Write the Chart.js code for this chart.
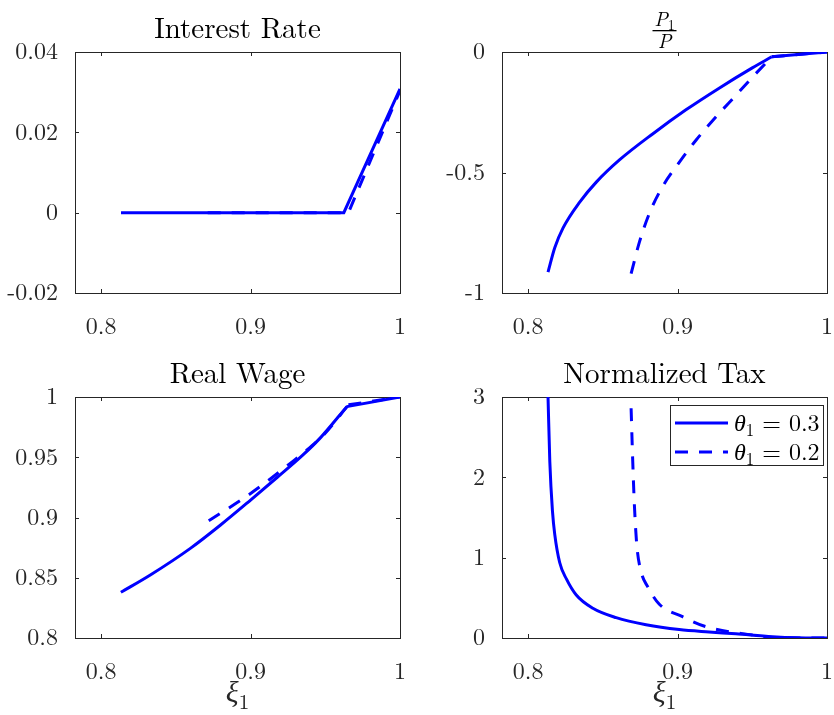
<!DOCTYPE html>
<html>
<head>
<meta charset="utf-8">
<script src="https://cdn.jsdelivr.net/npm/chart.js@4.4.0/dist/chart.umd.min.js"></script>
<style>
  body { margin: 0; background: #fff; }
  #wrap { position: relative; width: 834px; height: 715px; overflow: hidden; }
  canvas { position: absolute; }
</style>
</head>
<body>
<div id="wrap">
  <canvas id="rate" width="417" height="345" style="left:0;top:0"></canvas>
  <canvas id="price" width="417" height="345" style="left:417px;top:0"></canvas>
  <canvas id="wage" width="417" height="370" style="left:0;top:345px"></canvas>
  <canvas id="tax" width="417" height="370" style="left:417px;top:345px"></canvas>
</div>
<script>
// x axis shared by all panels
const xMin = 0.7825, xMax = 1;
const xTicks = [0.8, 0.9, 1];
const xTickLabels = ['0.8', '0.9', '1'];

const legendLabels = ['θ₁ = 0.3', 'θ₁ = 0.2'];

// Interest Rate
const rateX1 = [0.8133, 0.9624, 1.0];
const rateY1 = [0, 0, 0.0308];
const rateX2 = [0.8713, 0.9655, 1.0];
const rateY2 = [0, 0, 0.0304];
const rateTicks = [-0.02, 0, 0.02, 0.04];
const rateTickLabels = ['-0.02', '0', '0.02', '0.04'];

// P1/P
const priceX1 = [0.8133, 0.8178, 0.8233, 0.8345, 0.8456, 0.8611, 0.8833, 0.9056, 0.9278, 0.95, 0.963, 1.0];
const priceY1 = [-0.913, -0.812, -0.731, -0.623, -0.540, -0.448, -0.340, -0.240, -0.150, -0.066, -0.02, 0];
const priceX2 = [0.8689, 0.8745, 0.8811, 0.890, 0.9011, 0.9123, 0.9256, 0.939, 0.9523, 0.963, 1.0];
const priceY2 = [-0.92, -0.788, -0.670, -0.558, -0.458, -0.366, -0.270, -0.180, -0.090, -0.02, 0];
const priceTicks = [-1, -0.5, 0];
const priceTickLabels = ['-1', '-0.5', '0'];

// Real Wage
const wageX1 = [0.8132, 0.8329, 0.8597, 0.8799, 0.9, 0.9179, 0.9347, 0.947, 0.9644, 1.0];
const wageY1 = [0.8379, 0.8523, 0.8744, 0.8938, 0.9145, 0.9334, 0.9515, 0.9665, 0.992, 1.0];
const wageX2 = [0.872, 0.8944, 0.9094, 0.9242, 0.9358, 0.9492, 0.9655, 1.0];
const wageY2 = [0.8973, 0.9151, 0.9284, 0.9427, 0.954, 0.969, 0.9935, 1.0];
const wageTicks = [0.8, 0.85, 0.9, 0.95, 1];
const wageTickLabels = ['0.8', '0.85', '0.9', '0.95', '1'];

// Normalized Tax
const taxX1 = [0.8133, 0.8145, 0.8163, 0.8178, 0.8211, 0.8256, 0.8322, 0.8433, 0.8589, 0.8789, 0.9011, 0.9211, 0.939, 0.9635, 0.98, 1.0];
const taxY1 = [3.0, 2.195, 1.572, 1.29, 0.940, 0.735, 0.535, 0.370, 0.253, 0.165, 0.105, 0.075, 0.052, 0.016, 0.003, 0];
const taxX2 = [0.8689, 0.870, 0.8711, 0.8727, 0.8756, 0.880, 0.8878, 0.9033, 0.9189, 0.9502, 0.9635, 1.0];
const taxY2 = [2.86, 2.195, 1.656, 1.158, 0.825, 0.639, 0.42, 0.265, 0.141, 0.037, 0.005, 0];
const taxTicks = [0, 1, 2, 3];
const taxTickLabels = ['0', '1', '2', '3'];

const BLUE = '#0000ff';
const AXIS = '#262626';
const DASH = [13, 11];
const SERIF = '"Latin Modern Roman", "CMU Serif", "Liberation Serif", serif';

// build line datasets; curves with a kink get a straight piece after it
function curve(xs, ys, dashed, label, kink) {
    const pts = xs.map((x, i) => ({ x: x, y: ys[i] }));
    const base = { borderColor: BLUE, borderWidth: 3, pointRadius: 0, fill: false,
                   borderDash: dashed ? DASH : [], borderCapStyle: 'butt' };
    if (kink === 'straight') return [{ ...base, label: label, data: pts, tension: 0 }];
    if (kink == null) return [{ ...base, label: label, data: pts, cubicInterpolationMode: 'monotone' }];
    return [
        { ...base, label: label, data: pts.slice(0, kink + 1), cubicInterpolationMode: 'monotone' },
        { ...base, data: pts.slice(kink), tension: 0 }
    ];
}

// text with italic variables and a subscript 1
function drawMath(ctx, str, x, y, size, align) {
    const parts = [];
    for (const ch of str) {
        if (ch === '₁') parts.push({ t: '1', sub: true });
        else if (/[θξPa-zA-Z]/.test(ch)) parts.push({ t: ch, it: true });
        else parts.push({ t: ch });
    }
    const fontOf = p => (p.it ? 'italic ' : '') + (p.sub ? Math.round(size * 0.7) : size) + 'px ' + SERIF;
    let w = 0;
    parts.forEach(p => { ctx.font = fontOf(p); p.w = ctx.measureText(p.t).width; w += p.w; });
    let cx = align === 'center' ? x - w / 2 : x;
    ctx.textAlign = 'left';
    ctx.textBaseline = 'alphabetic';
    parts.forEach(p => {
        ctx.font = fontOf(p);
        ctx.fillText(p.t, cx, p.sub ? y + size * 0.22 : y);
        cx += p.w;
    });
}

const matlabPlugin = {
    id: 'matlab',
    beforeDatasetsDraw(chart, args, opts) {
        const ctx = chart.ctx, a = chart.chartArea;
        ctx.save();
        ctx.strokeStyle = AXIS;
        ctx.lineWidth = 1;
        ctx.beginPath();
        const xs = chart.scales.x, ys = chart.scales.y;
        xs.ticks.forEach(t => {
            const px = Math.round(xs.getPixelForValue(t.value)) + 0.5;
            ctx.moveTo(px, a.bottom); ctx.lineTo(px, a.bottom - 4);
            ctx.moveTo(px, a.top); ctx.lineTo(px, a.top + 4);
        });
        ys.ticks.forEach(t => {
            const py = Math.round(ys.getPixelForValue(t.value)) + 0.5;
            ctx.moveTo(a.left, py); ctx.lineTo(a.left + 4, py);
            ctx.moveTo(a.right, py); ctx.lineTo(a.right - 4, py);
        });
        ctx.stroke();
        ctx.strokeRect(Math.round(a.left) + 0.5, Math.round(a.top) + 0.5,
                       Math.round(a.right - a.left), Math.round(a.bottom - a.top));
        ctx.restore();
    },
    afterDraw(chart, args, opts) {
        const ctx = chart.ctx, a = chart.chartArea;
        const mid = (a.left + a.right) / 2;
        ctx.save();
        ctx.fillStyle = '#000';
        if (typeof opts.title === 'string') {
            ctx.font = '29px ' + SERIF;
            ctx.textAlign = 'center';
            ctx.textBaseline = 'alphabetic';
            ctx.fillText(opts.title, mid, 38);
        } else if (opts.title) {
            drawMath(ctx, opts.title.num, mid, 26, 20, 'center');
            ctx.fillRect(mid - 12, 30, 24, 1.3);
            drawMath(ctx, opts.title.den, mid, 48, 20, 'center');
        }
        if (opts.xlabel) {
            ctx.fillStyle = AXIS;
            drawMath(ctx, opts.xlabel, mid, 357, 30, 'center');
        }
        if (opts.legend) {
            const w = 153, h = 60;
            const left = a.right - 4 - w, top = a.top + 8;
            ctx.fillStyle = '#fff';
            ctx.fillRect(left, top, w, h);
            ctx.strokeStyle = AXIS;
            ctx.lineWidth = 1;
            ctx.strokeRect(Math.round(left) + 0.5, Math.round(top) + 0.5, w, h);
            const items = chart.data.datasets.filter(d => d.label);
            items.forEach((d, i) => {
                const ry = top + 18 + i * 29;
                ctx.strokeStyle = d.borderColor;
                ctx.lineWidth = 3;
                ctx.setLineDash(d.borderDash);
                ctx.beginPath();
                ctx.moveTo(left + 5, ry); ctx.lineTo(left + 58, ry);
                ctx.stroke();
                ctx.setLineDash([]);
                ctx.fillStyle = '#000';
                drawMath(ctx, d.label, left + 64, ry + 8, 24, 'left');
            });
        }
        ctx.restore();
    }
};

function makeChart(id, datasets, yMin, yMax, yTicks, yLabels, panel) {
    const isRight = id === 'price' || id === 'tax';
    const isBottom = id === 'wage' || id === 'tax';
    new Chart(document.getElementById(id), {
        type: 'line',
        data: { datasets: datasets },
        options: {
            responsive: false,
            animation: false,
            layout: { padding: { top: 52, right: isRight ? 7 : 17, left: 0, bottom: 0 } },
            plugins: {
                legend: { display: false },
                tooltip: { enabled: false },
                matlab: panel
            },
            scales: {
                x: {
                    type: 'linear', min: xMin, max: xMax,
                    grid: { display: false }, border: { display: false },
                    afterBuildTicks: s => { s.ticks = xTicks.map(v => ({ value: v })); },
                    afterFit: s => {
                        s.height = isBottom ? 77 : 52;
                        s.paddingLeft = 0;
                        s.paddingRight = 0;
                    },
                    ticks: {
                        color: AXIS, padding: 11, maxRotation: 0, autoSkip: false,
                        font: { family: SERIF, size: 24 },
                        callback: (v, i) => xTickLabels[i]
                    }
                },
                y: {
                    type: 'linear', min: yMin, max: yMax,
                    grid: { display: false }, border: { display: false },
                    afterBuildTicks: s => { s.ticks = yTicks.map(v => ({ value: v })); },
                    afterFit: s => { s.width = isRight ? 85 : 75; },
                    ticks: {
                        color: AXIS, padding: 9, autoSkip: false,
                        font: { family: SERIF, size: 24 },
                        callback: (v, i) => yLabels[i]
                    }
                }
            }
        },
        plugins: [matlabPlugin]
    });
}

makeChart('rate',
    [...curve(rateX1, rateY1, false, legendLabels[0], 'straight'),
     ...curve(rateX2, rateY2, true, legendLabels[1], 'straight')],
    -0.02, 0.04, rateTicks, rateTickLabels, { title: 'Interest Rate' });

makeChart('price',
    [...curve(priceX1, priceY1, false, legendLabels[0], 10),
     ...curve(priceX2, priceY2, true, legendLabels[1], 9)],
    -1, 0, priceTicks, priceTickLabels, { title: { num: 'P₁', den: 'P' } });

makeChart('wage',
    [...curve(wageX1, wageY1, false, legendLabels[0], 8),
     ...curve(wageX2, wageY2, true, legendLabels[1], 6)],
    0.8, 1, wageTicks, wageTickLabels, { title: 'Real Wage', xlabel: 'ξ₁' });

makeChart('tax',
    [...curve(taxX1, taxY1, false, legendLabels[0]),
     ...curve(taxX2, taxY2, true, legendLabels[1])],
    0, 3, taxTicks, taxTickLabels, { title: 'Normalized Tax', xlabel: 'ξ₁', legend: true });
</script>
</body>
</html>
